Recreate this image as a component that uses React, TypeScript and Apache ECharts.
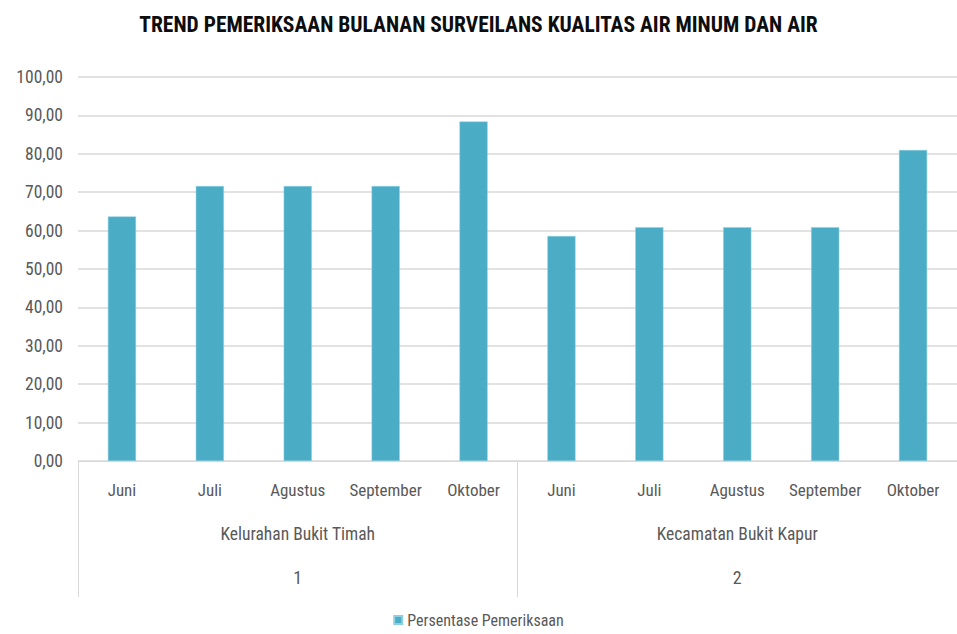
import React, { useEffect, useRef } from "react";
import * as echarts from "echarts";

const months = ["Juni", "Juli", "Agustus", "September", "Oktober", "Juni", "Juli", "Agustus", "September", "Oktober"];
const groups = ["Kelurahan Bukit Timah", "Kecamatan Bukit Kapur"];
const groupNumbers = ["1", "2"];
const persentase = [63.7, 71.6, 71.6, 71.6, 88.4, 58.6, 60.9, 60.9, 60.9, 81.0];

const FONT = "'Liberation Sans Narrow', 'Roboto Condensed', 'Liberation Sans', sans-serif";
const GRAY = "#595959";
const LINE = "#d9d9d9";
const BAR = "#4BACC6";

export default function App() {
  const ref = useRef<HTMLDivElement>(null);
  useEffect(() => {
    if (!ref.current) return;
    const chart = echarts.init(ref.current, undefined, { renderer: "svg" });
    chart.setOption({
      animation: false,
      backgroundColor: "#ffffff",
      textStyle: { fontFamily: FONT },
      title: {
        text: "TREND PEMERIKSAAN BULANAN SURVEILANS KUALITAS AIR MINUM DAN AIR",
        left: "center",
        top: 8,
        textStyle: { fontFamily: FONT, fontSize: 21.5, fontWeight: "bold", color: "#0d0d0d" },
      },
      legend: {
        bottom: 1,
        left: "center",
        itemWidth: 8,
        itemHeight: 8,
        itemGap: 6,
        icon: "rect",
        textStyle: { fontFamily: FONT, fontSize: 16, color: GRAY },
        data: ["Persentase Pemeriksaan"],
      },
      grid: { left: 78, right: -5, top: 77, bottom: 173 },
      xAxis: [
        {
          type: "category",
          data: months,
          position: "bottom",
          axisLine: { show: true, lineStyle: { color: LINE } },
          axisTick: { show: false },
          axisLabel: { interval: 0, margin: 20, fontFamily: FONT, fontSize: 17, color: GRAY },
        },
        {
          type: "category",
          data: groups,
          position: "bottom",
          axisLine: { show: false },
          axisTick: { show: true, length: 136, lineStyle: { color: LINE } },
          axisLabel: { interval: 0, margin: 64, fontFamily: FONT, fontSize: 17.5, color: GRAY },
        },
        {
          type: "category",
          data: groupNumbers,
          position: "bottom",
          axisLine: { show: false },
          axisTick: { show: false },
          axisLabel: { interval: 0, margin: 107, fontFamily: FONT, fontSize: 18, color: GRAY },
        },
      ],
      yAxis: {
        type: "value",
        min: 0,
        max: 100,
        interval: 10,
        axisLine: { show: false },
        axisTick: { show: false },
        splitLine: { lineStyle: { color: LINE, width: 1.5 } },
        axisLabel: {
          margin: 15,
          fontFamily: FONT,
          fontSize: 17.5,
          color: GRAY,
          formatter: (v: number) => v.toFixed(2).replace(".", ","),
        },
      },
      series: [
        {
          name: "Persentase Pemeriksaan",
          type: "bar",
          xAxisIndex: 0,
          data: persentase,
          barWidth: "32%",
          itemStyle: { color: BAR, borderColor: "#8fd0e0", borderWidth: 0.5 },
        },
      ],
    });
    return () => chart.dispose();
  }, []);
  return <div ref={ref} style={{ width: 957, height: 634, position: "absolute", left: 0, top: 0 }} />;
}
